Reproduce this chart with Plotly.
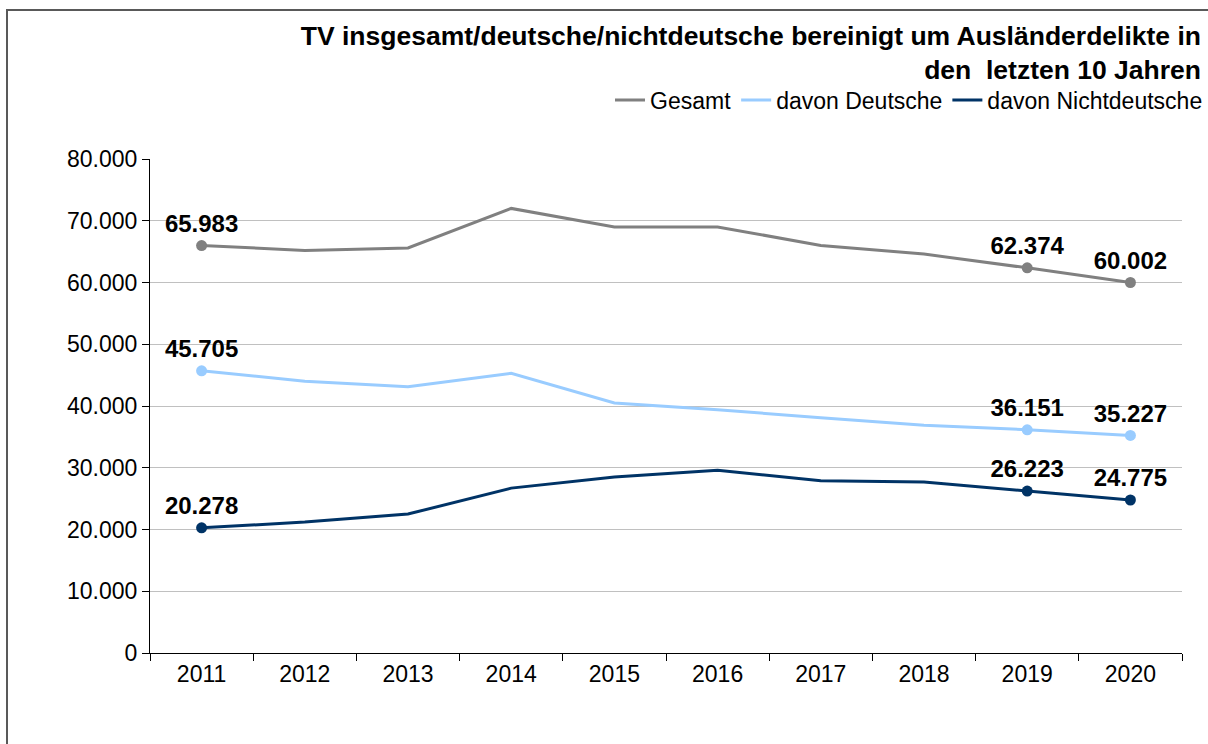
import plotly.graph_objects as go

years = ["2011", "2012", "2013", "2014", "2015", "2016", "2017", "2018", "2019", "2020"]
gesamt = [65983, 65200, 65600, 72000, 69000, 69000, 66000, 64600, 62374, 60002]
deutsche = [45705, 44000, 43100, 45300, 40500, 39400, 38100, 36900, 36151, 35227]
nichtdeutsche = [20278, 21200, 22500, 26700, 28500, 29600, 27900, 27700, 26223, 24775]
labeled_idx = [0, 8, 9]

series = [
    ("Gesamt", gesamt, "#808080"),
    ("davon Deutsche", deutsche, "#99CCFF"),
    ("davon Nichtdeutsche", nichtdeutsche, "#003366"),
]

FONT = "Liberation Sans, Arial"

fig = go.Figure()
for name, vals, col in series:
    fig.add_trace(go.Scatter(
        x=years, y=vals, mode="lines", name=name,
        line=dict(color=col, width=3), hoverinfo="skip"))
for name, vals, col in series:
    fig.add_trace(go.Scatter(
        x=[years[i] for i in labeled_idx], y=[vals[i] for i in labeled_idx],
        mode="markers+text", showlegend=False,
        marker=dict(color=col, size=11),
        texttemplate="%{y:,.0f}", textposition="top center",
        textfont=dict(family=FONT, size=24, color="#000000", weight="bold"),
        cliponaxis=False))

fig.update_layout(
    width=1208, height=744,
    margin=dict(l=150, r=26, t=159, b=91, autoexpand=False),
    paper_bgcolor="white", plot_bgcolor="white",
    separators=",.",
    font=dict(family=FONT, size=22, color="#000000"),
    title=dict(
        text="<b>TV insgesamt/deutsche/nichtdeutsche bereinigt um Ausländerdelikte in<br>den  letzten 10 Jahren</b>",
        x=1201 / 1208, xanchor="right", xref="container",
        y=1 - 45 / 744, yanchor="top", yref="container",
        font=dict(family=FONT, size=26.5, color="#000000")),
    legend=dict(
        orientation="h", xref="container", yref="container",
        x=1.0, xanchor="right", y=1 - 100 / 744, yanchor="middle",
        font=dict(family=FONT, size=23, color="#000000"),
        bgcolor="rgba(0,0,0,0)", itemwidth=30, traceorder="normal"),
    showlegend=True,
    shapes=[dict(type="rect", xref="paper", yref="paper",
                 x0=(7 - 150) / 1032, x1=1.2, y0=-0.3, y1=(653 - 10) / 494,
                 line=dict(color="#595959", width=2), fillcolor="rgba(0,0,0,0)", layer="below")],
)
fig.update_xaxes(
    type="category", range=[-0.5, len(years) - 0.5],
    tickson="boundaries", ticks="outside", ticklen=7,
    tickcolor="#000000", showline=True, linecolor="#000000", linewidth=1,
    showgrid=False, zeroline=False,
    tickfont=dict(size=23), fixedrange=True)
fig.update_yaxes(
    range=[0, 80000], dtick=10000, tickformat=",.0f",
    ticks="outside", ticklen=7, tickcolor="#000000",
    showline=True, linecolor="#000000", linewidth=1,
    showgrid=True, gridcolor="#C0C0C0", gridwidth=1, zeroline=False,
    tickfont=dict(size=23), fixedrange=True)

fig.write_html("out.html", config={"displayModeBar": False},
               post_script="document.body.style.margin='0';document.body.style.overflow='hidden';")
